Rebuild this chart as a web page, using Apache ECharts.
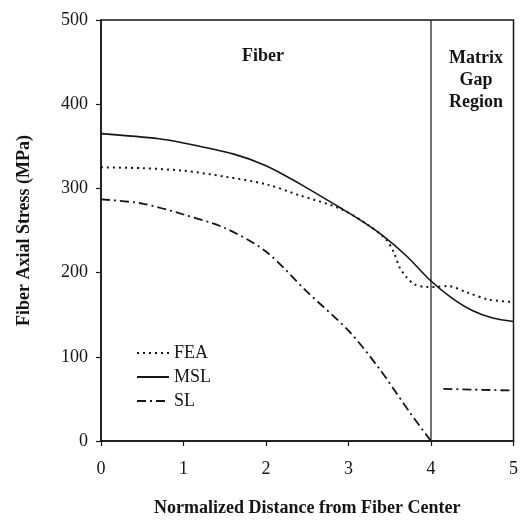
<!DOCTYPE html>
<html><head><meta charset="utf-8">
<script src="https://cdn.jsdelivr.net/npm/echarts@6/dist/echarts.min.js"></script>
<style>html,body{margin:0;padding:0;background:#fff}#c{width:521px;height:522px}</style>
</head><body><div id="c"></div>
<script>
var xTicks = [0, 1, 2, 3, 4, 5];
var yTicks = [0, 100, 200, 300, 400, 500];

var feaX = [0, 0.5, 1, 1.5, 2, 2.4, 2.9, 3.2, 3.45, 3.55, 3.62, 3.7, 3.8, 3.95, 4.05, 4.2, 4.45, 4.7, 5];
var feaY = [325, 324, 321, 314, 305, 292, 276, 259, 240, 224, 206, 195, 186, 183, 183, 184, 176, 168, 165];

var mslX = [0, 0.7, 1, 1.6, 2, 2.4, 2.9, 3.15, 3.4, 3.7, 4, 4.25, 4.5, 4.75, 5];
var mslY = [365, 359, 354, 341, 327, 306, 277, 262, 245, 220, 190, 170, 155, 146, 142];

var slFiberX = [0, 0.5, 1, 1.5, 2, 2.5, 3, 3.35, 3.75, 4];
var slFiberY = [287, 282, 269, 253, 225, 177, 131, 89, 33, 0];

var slGapX = [4.15, 4.5, 5];
var slGapY = [62, 61, 60];

var dividerX = [4, 4];
var dividerY = [0, 500];

function pairs(xs, ys) { return xs.map(function (x, i) { return [x, ys[i]]; }); }

var FONT = '"Liberation Serif", "Times New Roman", serif';
var INK = '#151515';

var chart = echarts.init(document.getElementById('c'), null, {renderer: 'canvas'});
chart.setOption({
  animation: false,
  backgroundColor: '#fff',
  grid: {left: 101, right: 6, top: 20, bottom: 76, show: true, borderColor: INK, borderWidth: 1.5, backgroundColor: 'transparent'},
  xAxis: {
    type: 'value', min: 0, max: 5, interval: 1,
    name: 'Normalized Distance from Fiber Center', nameLocation: 'middle', nameGap: 58,
    nameTextStyle: {fontFamily: FONT, fontWeight: 'bold', fontSize: 18, color: INK},
    axisLine: {show: true, onZero: false, lineStyle: {color: INK, width: 1.5}},
    axisTick: {show: true, length: 5, lineStyle: {color: INK, width: 1.2}},
    axisLabel: {fontFamily: FONT, fontSize: 18, color: INK, margin: 19},
    splitLine: {show: false}
  },
  yAxis: {
    type: 'value', min: 0, max: 500, interval: 100,
    name: 'Fiber Axial Stress (MPa)', nameLocation: 'middle', nameGap: 68, nameRotate: 90,
    nameTextStyle: {fontFamily: FONT, fontWeight: 'bold', fontSize: 18, color: INK},
    axisLine: {show: true, lineStyle: {color: INK, width: 1.5}},
    axisTick: {show: true, length: 5, lineStyle: {color: INK, width: 1.2}},
    axisLabel: {fontFamily: FONT, fontSize: 18, color: INK, margin: 13},
    splitLine: {show: false}
  },
  legend: {
    orient: 'vertical', left: 131, top: 339, itemGap: 6, itemWidth: 32, itemHeight: 16,
    data: ['FEA', 'MSL', 'SL'],
    itemStyle: {opacity: 0},
    textStyle: {fontFamily: FONT, fontSize: 18, color: INK},
    selectedMode: false
  },
  series: [
    {name: 'FEA', type: 'line', data: pairs(feaX, feaY), smooth: 0.3, showSymbol: false, symbol: 'none',
     lineStyle: {color: INK, width: 2, type: [2, 4]}, itemStyle: {color: INK}},
    {name: 'MSL', type: 'line', data: pairs(mslX, mslY), smooth: 0.3, showSymbol: false, symbol: 'none',
     lineStyle: {color: INK, width: 1.6, type: 'solid'}, itemStyle: {color: INK}},
    {name: 'SL', type: 'line', data: pairs(slFiberX, slFiberY), smooth: 0.3, showSymbol: false, symbol: 'none',
     lineStyle: {color: INK, width: 1.8, type: [9, 4, 2, 4]}, itemStyle: {color: INK}},
    {name: 'SL', type: 'line', data: pairs(slGapX, slGapY), smooth: 0.3, showSymbol: false, symbol: 'none',
     lineStyle: {color: INK, width: 1.8, type: [9, 4, 2, 4]}, itemStyle: {color: INK}},
    {name: 'divider', type: 'line', data: pairs(dividerX, dividerY), showSymbol: false, symbol: 'none',
     lineStyle: {color: INK, width: 1.2}, silent: true}
  ],
  graphic: [
    {type: 'text', x: 263, y: 47, style: {text: 'Fiber', font: 'bold 18px ' + FONT, fill: INK, align: 'center'}},
    {type: 'text', x: 476, y: 47, style: {text: 'Matrix\nGap\nRegion', font: 'bold 18px ' + FONT, fill: INK, align: 'center', lineHeight: 22}}
  ]
});
</script></body></html>
